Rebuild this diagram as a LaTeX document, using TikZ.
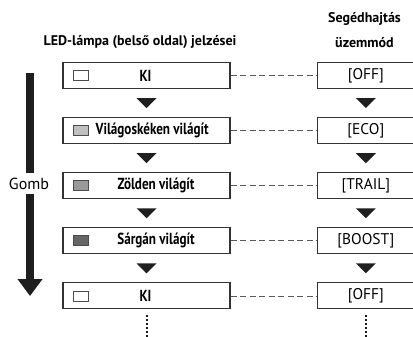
\documentclass[tikz,border=0pt]{standalone}
\usepackage{fontspec}
\setmainfont{PT Sans}
\newfontfamily\ledfont{PT Sans}[FakeStretch=0.82]
\usetikzlibrary{positioning,calc,arrows.meta}

\begin{document}
\begin{tikzpicture}[
    x=1pt, y=-1pt,
    node distance=28pt and 86pt,
    ledbox/.style={rectangle, draw=black!80, line width=1.1pt, minimum width=167pt, minimum height=26pt, inner sep=0pt},
    modebox/.style={rectangle, draw=black!80, line width=1.1pt, minimum width=97.5pt, minimum height=26pt, inner sep=0pt, font=\fontsize{15.5}{17}\selectfont},
    ledtext/.style={font=\ledfont\bfseries\fontsize{16}{18}\selectfont, inner sep=0pt},
    icon/.style={rectangle, draw=black!70, line width=0.7pt, minimum width=15pt, minimum height=10pt, inner sep=0pt},
    header/.style={font=\bfseries\fontsize{14}{25}\selectfont, align=center},
    link/.style={draw=black!65, line width=0.7pt, dash pattern=on 6pt off 3.5pt},
    more/.style={draw=black!90, line width=2pt, dash pattern=on 2pt off 2pt},
    press/.style={draw=black!88, line width=8pt},
    nextmark/.style={fill=black!88},
]
    \useasboundingbox (0,0) rectangle (413,337);

    % headers
    \node[header] (hled) at (140,42) {LED-lámpa (belső oldal) jelzései};
    \node[header] (hmode) at (364.5,30) {Segédhajtás\\üzemmód};

    % LED column
    \node[ledbox] (l1) at (146.5,75.5) {};
    \node[ledbox, below=of l1] (l2) {};
    \node[ledbox, below=of l2] (l3) {};
    \node[ledbox, below=of l3] (l4) {};
    \node[ledbox, below=of l4] (l5) {};

    \node[icon, fill=white] (i1) at ([xshift=18.5pt]l1.west) {};
    \node[icon, fill=black!25] (i2) at ([xshift=18.5pt]l2.west) {};
    \node[icon, fill=black!40] (i3) at ([xshift=18.5pt]l3.west) {};
    \node[icon, fill=black!60] (i4) at ([xshift=18.5pt]l4.west) {};
    \node[icon, fill=white] (i5) at ([xshift=18.5pt]l5.west) {};

    \node[ledtext] (t1) at ([xshift=-1pt]l1.center) {KI};
    \node[ledtext, anchor=west] (t2) at ([xshift=33pt]l2.west) {Világoskéken világít};
    \node[ledtext] (t3) at ([xshift=9.5pt]l3.center) {Zölden világít};
    \node[ledtext] (t4) at ([xshift=9.5pt]l4.center) {Sárgán világít};
    \node[ledtext] (t5) at ([xshift=-1pt]l5.center) {KI};

    % mode column
    \node[modebox, right=of l1] (r1) {[OFF]};
    \node[modebox, right=of l2] (r2) {[ECO]};
    \node[modebox, right=of l3] (r3) {[TRAIL]};
    \node[modebox, right=of l4] (r4) {[BOOST]};
    \node[modebox, right=of l5] (r5) {[OFF]};

    \draw[link] (l1) -- (r1);
    \draw[link] (l2) -- (r2);
    \draw[link] (l3) -- (r3);
    \draw[link] (l4) -- (r4);
    \draw[link] (l5) -- (r5);

    % arrows between states
    \fill[nextmark] ($(l1.south)!0.5!(l2.north)$) +(-10,-5) -- +(10,-5) -- +(0,5) -- cycle;
    \fill[nextmark] ($(l2.south)!0.5!(l3.north)$) +(-10,-5) -- +(10,-5) -- +(0,5) -- cycle;
    \fill[nextmark] ($(l3.south)!0.5!(l4.north)$) +(-10,-5) -- +(10,-5) -- +(0,5) -- cycle;
    \fill[nextmark] ($(l4.south)!0.5!(l5.north)$) +(-10,-5) -- +(10,-5) -- +(0,5) -- cycle;
    \fill[nextmark] ($(r1.south)!0.5!(r2.north)$) +(-10,-5) -- +(10,-5) -- +(0,5) -- cycle;
    \fill[nextmark] ($(r2.south)!0.5!(r3.north)$) +(-10,-5) -- +(10,-5) -- +(0,5) -- cycle;
    \fill[nextmark] ($(r3.south)!0.5!(r4.north)$) +(-10,-5) -- +(10,-5) -- +(0,5) -- cycle;
    \fill[nextmark] ($(r4.south)!0.5!(r5.north)$) +(-10,-5) -- +(10,-5) -- +(0,5) -- cycle;

    % continuation
    \coordinate (lend) at (l5.south |- 0,337);
    \coordinate (rend) at (r5.south |- 0,337);
    \draw[more] ([yshift=-6pt]l5.south) -- (lend);
    \draw[more] ([yshift=-6pt]r5.south) -- (rend);

    % button
    \node[font=\fontsize{16}{18}\selectfont, inner ysep=5pt, inner xsep=0pt] (gomb) at (29,183.5) {Gomb};
    \coordinate (btop) at (30,73);
    \coordinate (bbot) at (30,296);
    \draw[press] (btop) -- (btop |- gomb.north);
    \draw[press, -{Triangle[length=17pt, width=24pt]}] (btop |- gomb.south) -- (bbot);
\end{tikzpicture}
\end{document}
